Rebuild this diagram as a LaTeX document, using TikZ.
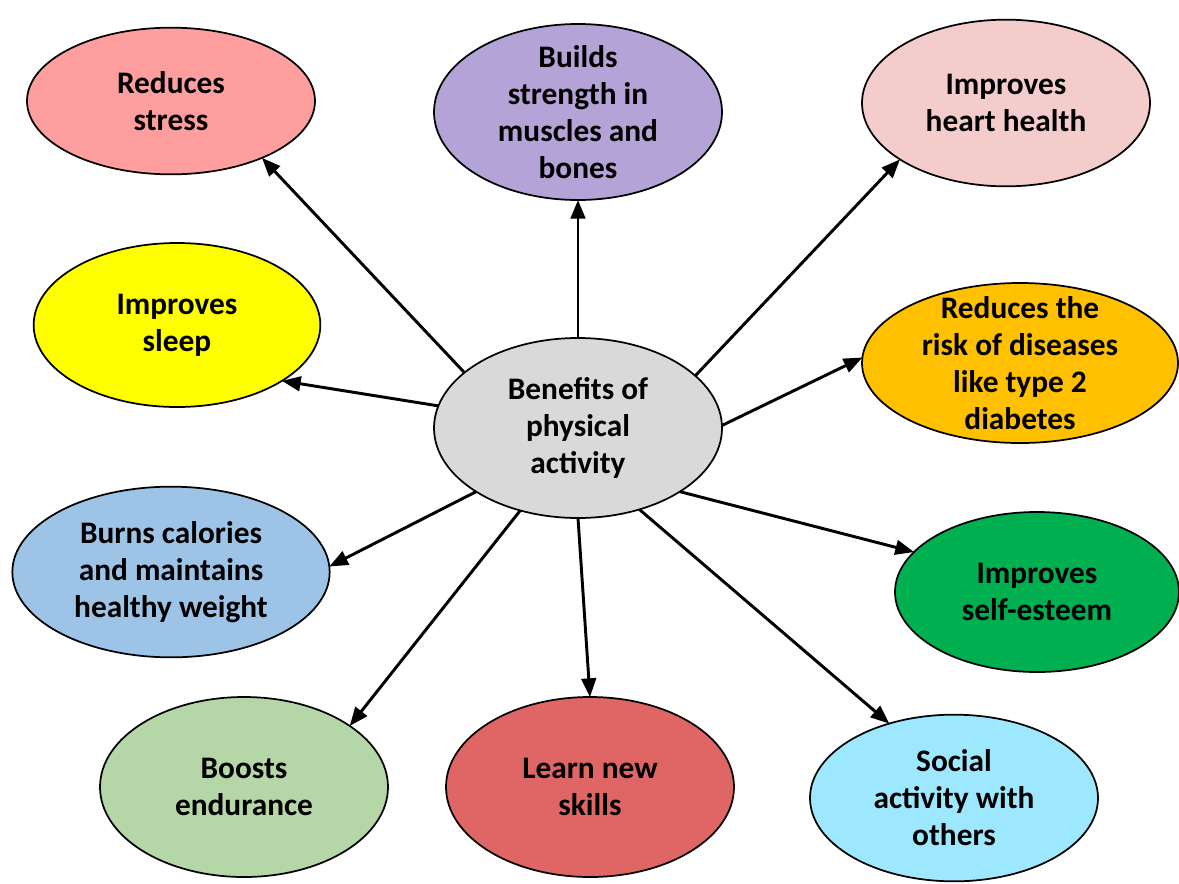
\documentclass[tikz,border=0pt]{standalone}
\usepackage{fontspec}
\setmainfont{Carlito}
\usetikzlibrary{shapes.geometric,arrows.meta}
\definecolor{cStress}{HTML}{FF9E9E}
\definecolor{cStrength}{HTML}{B3A3D6}
\definecolor{cHeart}{HTML}{F4CCCC}
\definecolor{cSleep}{HTML}{FFFF00}
\definecolor{cRisk}{HTML}{FFC000}
\definecolor{cBurns}{HTML}{9DC3E6}
\definecolor{cEsteem}{HTML}{00B050}
\definecolor{cEndur}{HTML}{B5D6A7}
\definecolor{cLearn}{HTML}{E06666}
\definecolor{cSocial}{HTML}{9DE7FF}
\definecolor{cCenter}{HTML}{D9D9D9}
\begin{document}
\begin{tikzpicture}[x=0.75pt,y=-0.75pt,
  bub/.style={ellipse,draw=black,line width=1.3pt,inner sep=0pt,outer sep=0pt},
  txt/.style={align=center,font=\fontsize{23.5}{27.7}\selectfont\bfseries,text=black},
  arr/.style={line width=2.2pt,-{Triangle[length=14pt,width=11pt]}}]
  \useasboundingbox (0,0) rectangle (1179,883);
  \fill[white] (0,0) rectangle (1179,883);
  % hub
  \node[bub,fill=cCenter,minimum width=216pt,minimum height=135pt,
        label={[txt]center:Benefits of\\physical\\activity}] (c) at (578,428) {};
  % benefits around the hub
  \node[bub,fill=cStress,minimum width=216pt,minimum height=110pt,
        label={[txt]center:Reduces\\stress}] (stress) at (171,101) {};
  \node[bub,fill=cStrength,minimum width=216pt,minimum height=132pt,
        label={[txt]center:Builds\\strength in\\muscles and\\bones}] (strength) at (578,112) {};
  \node[bub,fill=cHeart,minimum width=216pt,minimum height=125pt,
        label={[txt]center:Improves\\heart health}] (heart) at (1006,103) {};
  \node[bub,fill=cSleep,minimum width=215pt,minimum height=123pt,
        label={[txt]center:Improves\\sleep}] (sleep) at (177,325) {};
  \node[bub,fill=cRisk,minimum width=237pt,minimum height=120pt,
        label={[txt]center:Reduces the\\risk of diseases\\like type 2\\diabetes}] (risk) at (1020,363) {};
  \node[bub,fill=cBurns,minimum width=238pt,minimum height=128pt,
        label={[txt]center:Burns calories\\and maintains\\healthy weight}] (burns) at (171,572) {};
  \node[bub,fill=cEsteem,minimum width=213pt,minimum height=120pt,
        label={[txt]center:Improves\\self-esteem}] (esteem) at (1037,592) {};
  \node[bub,fill=cEndur,minimum width=216pt,minimum height=135pt,
        label={[txt]center:Boosts\\endurance}] (endur) at (244,787) {};
  \node[bub,fill=cLearn,minimum width=216pt,minimum height=135pt,
        label={[txt]center:Learn new\\skills}] (learn) at (590,787) {};
  \node[bub,fill=cSocial,minimum width=216pt,minimum height=125pt,
        label={[txt]center:Social\\activity with\\others}] (social) at (954,798) {};
  % arrows from the hub
  \draw[arr] (c.154) -- (stress.-32);
  \draw[arr] (c.90) -- (strength.-90);
  \draw[arr] (c.24) -- (heart.-152);
  \draw[arr] (c.171) -- (sleep.-28);
  \draw[arr] (c.1) -- (risk.178);
  \draw[arr] (c.-148) -- (burns.2);
  \draw[arr] (c.-32) -- (esteem.162);
  \draw[arr] (c.-125) -- (endur.30);
  \draw[arr] (c.-90) -- (learn.90);
  \draw[arr] (c.-53) -- (social.131);
\end{tikzpicture}
\end{document}
